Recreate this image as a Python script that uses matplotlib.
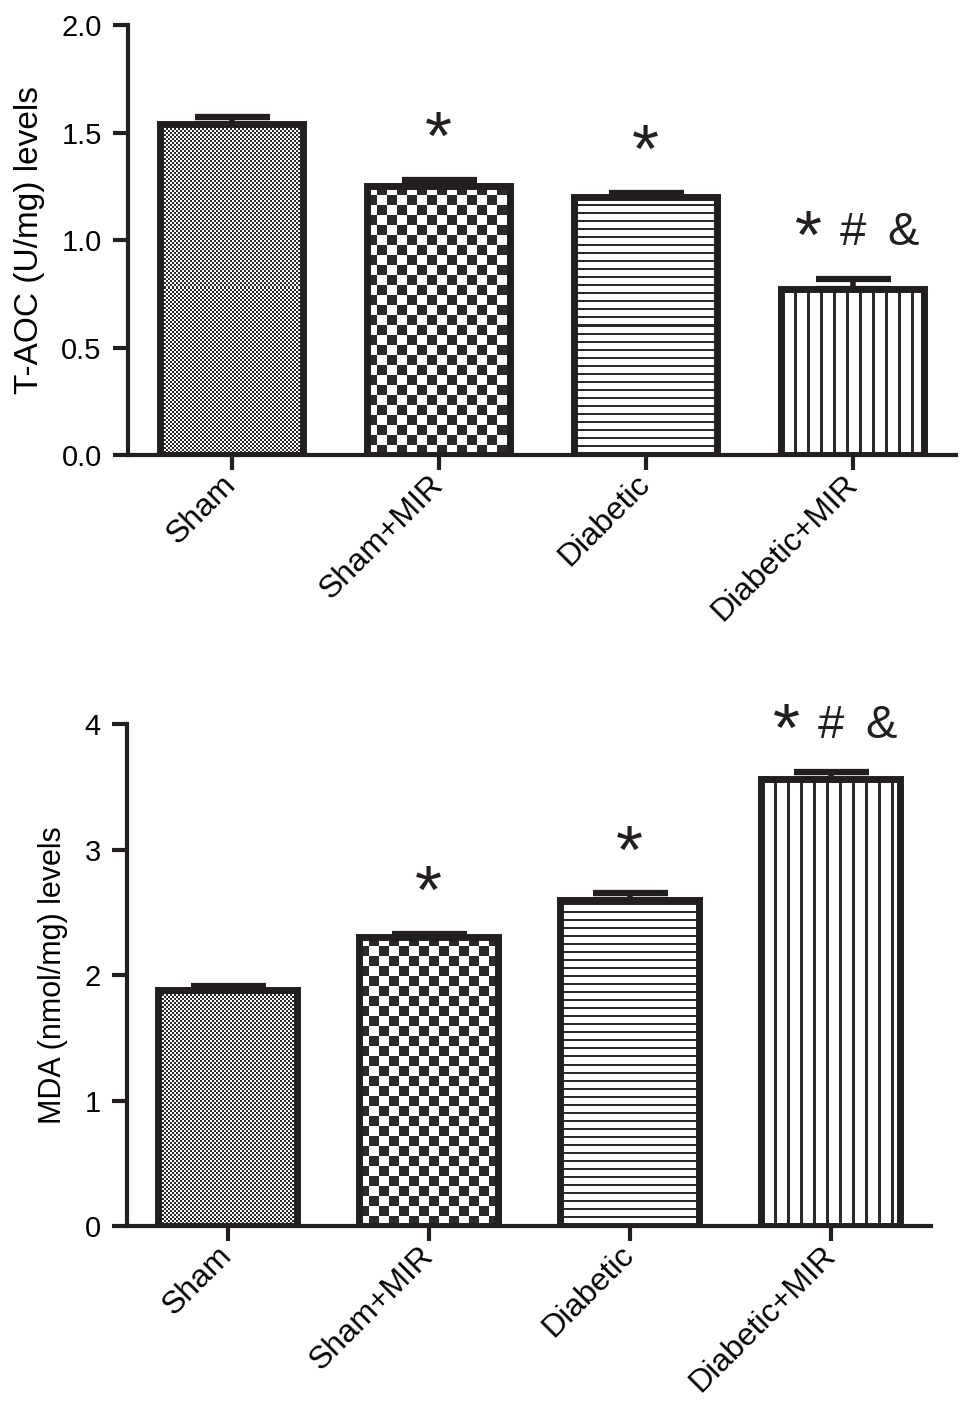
import matplotlib
matplotlib.use('Agg')
import matplotlib.pyplot as plt
from matplotlib.colors import ListedColormap
import numpy as np

plt.rcParams['font.family'] = ['Liberation Sans', 'DejaVu Sans']

groups = ['Sham', 'Sham+MIR', 'Diabetic', 'Diabetic+MIR']

taoc_mean = [1.54, 1.25, 1.20, 0.77]
taoc_err = [0.03, 0.03, 0.02, 0.05]

mda_mean = [1.88, 2.30, 2.60, 3.56]
mda_err = [0.03, 0.03, 0.05, 0.06]

marks = ['', '*', '*', '*#&']
patterns = ['fine', 'checker', 'hlines', 'vlines']

INK = '#231f20'


def make_pattern(kind, w, h):
    yy, xx = np.mgrid[0:h, 0:w]
    if kind == 'fine':
        img = (xx // 2 + yy // 2) % 2
    elif kind == 'checker':
        img = (xx // 10 + yy // 10) % 2
    elif kind == 'hlines':
        img = (yy % 8 < 2).astype(int)
    else:
        img = (xx % 13 < 3).astype(int)
    return img


def draw_panel(fig, rect, means, errs, ylim, yticks, ylabel, tick_fmt, label_size):
    ax = fig.add_axes(rect)
    x = np.arange(len(groups))
    width = 0.69
    ax.set_xlim(-0.5, 3.5)
    ax.set_ylim(*ylim)

    bars = ax.bar(x, means, width=width, facecolor='none', edgecolor=INK,
                  linewidth=5, zorder=3)

    cmap = ListedColormap(['white', '#2a2a2a'])
    for bar, kind in zip(bars, patterns):
        x0, y0 = bar.get_x(), 0
        x1, y1 = x0 + bar.get_width(), bar.get_height()
        p0 = ax.transData.transform((x0, y0))
        p1 = ax.transData.transform((x1, y1))
        w = max(int(round(p1[0] - p0[0])), 1)
        h = max(int(round(p1[1] - p0[1])), 1)
        img = make_pattern(kind, w, h)
        im = ax.imshow(img, cmap=cmap, extent=(x0, x1, y0, y1), origin='lower',
                       aspect='auto', interpolation='nearest', zorder=2, vmin=0, vmax=1)
        im.set_clip_path(bar)

    ax.errorbar(x, means, yerr=[np.zeros(len(means)), errs], fmt='none',
                ecolor=INK, elinewidth=4, capsize=27, capthick=4.5, zorder=4)

    ax.set_xlim(-0.5, 3.5)
    ax.set_ylim(*ylim)

    ax.spines['top'].set_visible(False)
    ax.spines['right'].set_visible(False)
    for s in ['left', 'bottom']:
        ax.spines[s].set_linewidth(3)
        ax.spines[s].set_color(INK)

    ax.set_yticks(yticks)
    ax.set_yticklabels([tick_fmt.format(t) for t in yticks], fontsize=21)
    ax.set_xticks(x)
    ax.set_xticklabels(groups, fontsize=23, rotation=45, ha='right', va='center',
                       rotation_mode='anchor')
    ax.tick_params(axis='both', length=11, width=3, color=INK, pad=8)
    ax.tick_params(axis='x', pad=7)
    ax.set_ylabel(ylabel, fontsize=label_size, labelpad=12)

    # significance marks above the error bars
    for i, m in enumerate(marks):
        if not m:
            continue
        top = means[i] + errs[i]
        if len(m) == 1:
            offs = [0]
        else:
            offs = [-32, 0, 36]
        for ch, dx in zip(m, offs):
            if ch == '*':
                ax.annotate(ch, (i, top), xytext=(dx, 15), textcoords='offset points',
                            ha='center', va='baseline', fontsize=50, color=INK, zorder=5)
            else:
                ax.annotate(ch, (i, top), xytext=(dx, 24), textcoords='offset points',
                            ha='center', va='baseline', fontsize=34, color=INK, zorder=5)
    return ax


def main():
    fig = plt.figure(figsize=(9.7, 14.22), dpi=100)

    draw_panel(fig, [0.132, 0.680, 0.854, 0.3024], taoc_mean, taoc_err,
               (0, 2.0), [0.0, 0.5, 1.0, 1.5, 2.0], 'T-AOC (U/mg) levels', '{:.1f}', 24)
    draw_panel(fig, [0.131, 0.1378, 0.829, 0.353], mda_mean, mda_err,
               (0, 4), [0, 1, 2, 3, 4], 'MDA (nmol/mg) levels', '{:.0f}', 22)

    fig.savefig('out.png', dpi=100)


if __name__ == '__main__':
    main()
